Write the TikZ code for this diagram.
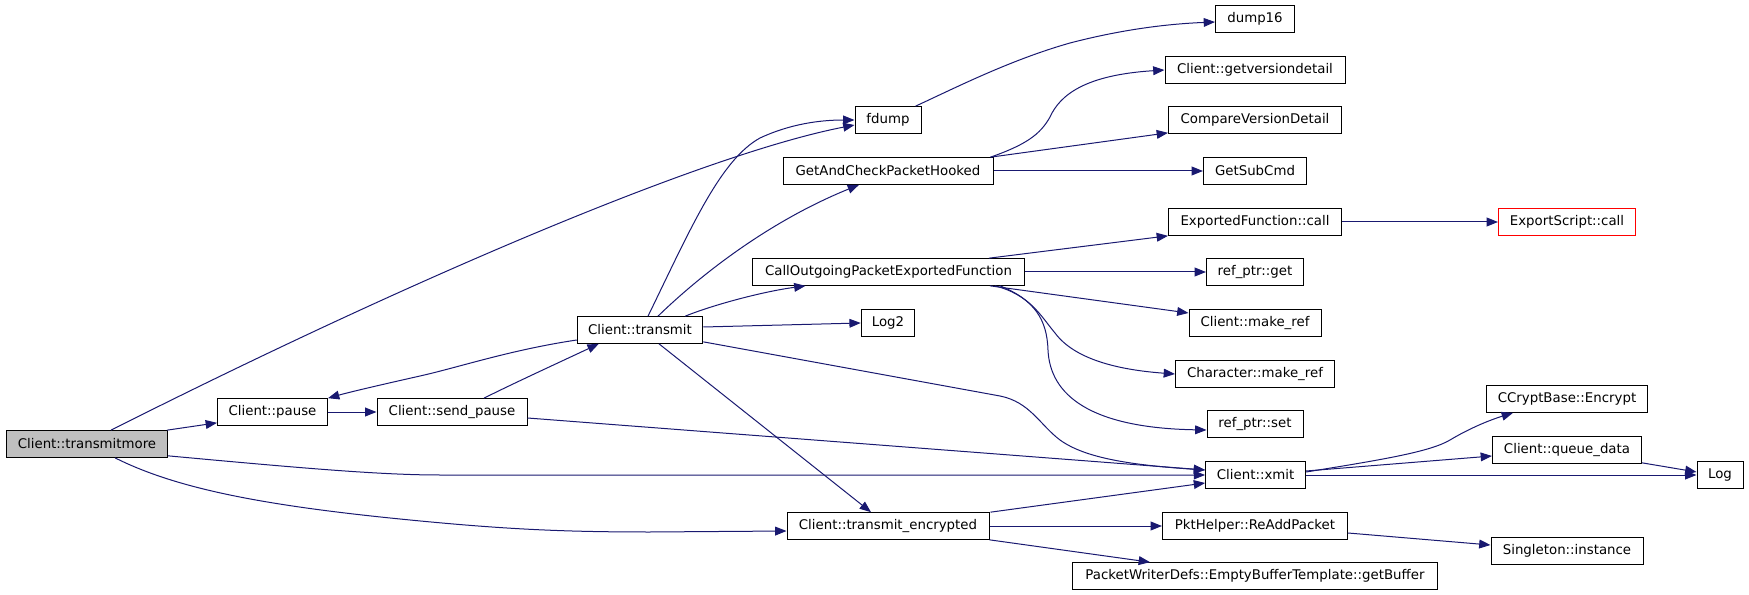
\documentclass[tikz,border=0pt]{standalone}
\usepackage{fontspec}
\setmainfont{DejaVu Sans}
\usetikzlibrary{arrows.meta,calc}
\definecolor{dblue}{HTML}{191970}
\definecolor{tmgray}{HTML}{BFBFBF}
\begin{document}
\begin{tikzpicture}[x=0.75pt,y=-0.75pt,
  nd/.style={draw=black, line width=0.75pt, inner sep=0pt, minimum height=20pt,
    font=\fontsize{10}{12}\selectfont, fill=white},
  w/.style={minimum width=#1*0.75pt},
  e/.style={draw=dblue, line width=0.75pt, -{Triangle[length=8.5pt,width=6.6pt]}, fill=none}]
\useasboundingbox (0,0) rectangle (1749,595);
% nodes
\node[nd,w=161,fill=tmgray] (tm) at (87,444) {Client::transmitmore};
\node[nd,w=110] (pause) at (272.5,412) {Client::pause};
\node[nd,w=150] (sp) at (452,412) {Client::send\_pause};
\node[nd,w=125.5] (tr) at (640,330) {Client::transmit};
\node[nd,w=66] (fdump) at (888,120) {fdump};
\node[nd,w=210] (gacph) at (888,171) {GetAndCheckPacketHooked};
\node[nd,w=272] (co) at (888.5,272) {CallOutgoingPacketExportedFunction};
\node[nd,w=53.5] (log2) at (888,323) {Log2};
\node[nd,w=202] (te) at (888,526) {Client::transmit\_encrypted};
\node[nd,w=79] (d16) at (1255,19) {dump16};
\node[nd,w=180] (gvd) at (1255,70) {Client::getversiondetail};
\node[nd,w=173] (cvd) at (1255,120) {CompareVersionDetail};
\node[nd,w=103] (gsc) at (1255,171) {GetSubCmd};
\node[nd,w=173] (efc) at (1255,222) {ExportedFunction::call};
\node[nd,w=137,draw=red] (esc) at (1567,222) {ExportScript::call};
\node[nd,w=97] (rpget) at (1255,272) {ref\_ptr::get};
\node[nd,w=132] (cmr) at (1255,323) {Client::make\_ref};
\node[nd,w=159] (chmr) at (1255,374) {Character::make\_ref};
\node[nd,w=96] (rpset) at (1255,424) {ref\_ptr::set};
\node[nd,w=100] (xmit) at (1255.6,475) {Client::xmit};
\node[nd,w=161] (ccb) at (1567,399) {CCryptBase::Encrypt};
\node[nd,w=149] (qd) at (1567,450) {Client::queue\_data};
\node[nd,w=46] (log) at (1720,475) {Log};
\node[nd,w=185] (pkt) at (1255,526) {PktHelper::ReAddPacket};
\node[nd,w=152] (single) at (1567,551) {Singleton::instance};
\node[nd,w=365] (pwd) at (1255,576) {PacketWriterDefs::EmptyBufferTemplate::getBuffer};
% edges
\draw[e] ($(tm.north east)+(-1,0)$) -- ($(pause.south west)+(0,-3)$);
\draw[e] ($(tm.north)+(24,0)$) .. controls (411,279) and (705,154) .. ($(fdump.west)+(0,5)$);
\draw[e] ($(tm.south east)+(0,-2)$) .. controls (300,468) and (380,475) .. (440,475) -- (xmit.west);
\draw[e] ($(tm.south)+(28,0)$) .. controls (175,488) and (260,505) .. (400,519) .. controls (500,529) and (560,532) .. (650,532) -- ($(te.west)+(0,5)$);
\draw[e] (pause.east) -- (sp.west);
\draw[e] ($(sp.north)+(32,0)$) .. controls (510,385) and (560,362) .. ($(tr.south west)+(22,0)$);
\draw[e] ($(sp.east)+(0,6)$) -- ($(xmit.west)+(0,-5)$);
\draw[e] ($(tr.west)+(0,10)$) .. controls (510,350) and (460,367) .. (420,376) .. controls (380,385) and (350,392) .. (pause.north east);
\draw[e] ($(tr.north)+(8,0)$) .. controls (690,230) and (720,160) .. (760,138) .. controls (790,124) and (820,120) .. (fdump.west);
\draw[e] ($(tr.north)+(18,0)$) .. controls (690,285) and (760,225) .. ($(gacph.south)+(-29,0)$);
\draw[e] ($(tr.north east)+(-18,0)$) .. controls (710,306) and (760,292) .. ($(co.south)+(-83,0)$);
\draw[e] ($(tr.east)+(0,-3)$) -- (log2.west);
\draw[e] ($(tr.south east)+(0,-2)$) -- (1000,396) .. controls (1030,402) and (1040,425) .. (1060,440) .. controls (1085,458) and (1130,465) .. ($(xmit.west)+(0,-5)$);
\draw[e] ($(tr.south)+(19,0)$) -- ($(te.north)+(-17,0)$);
\draw[e] ($(fdump.north east)+(-6,0)$) .. controls (955,88) and (1010,60) .. (1070,43) .. controls (1120,30) and (1165,24) .. ($(d16.west)+(0,3)$);
\draw[e] ($(gacph.north east)+(-3,0)$) .. controls (1025,145) and (1040,135) .. (1050,117) .. controls (1060,95) and (1085,75) .. (gvd.west);
\draw[e] ($(gacph.north east)+(-3,0)$) -- ($(cvd.south west)+(0,-1)$);
\draw[e] (gacph.east) -- (gsc.west);
\draw[e] ($(co.north east)+(-36,0)$) -- (efc.south west);
\draw[e] (co.east) -- (rpget.west);
\draw[e] ($(co.south east)+(-35,0)$) -- ($(cmr.west)+(0,-10)$);
\draw[e] ($(co.south east)+(-30,0)$) .. controls (1030,295) and (1040,315) .. (1055,333) .. controls (1075,360) and (1120,370) .. (chmr.west);
\draw[e] ($(co.south east)+(-25,0)$) .. controls (1035,300) and (1047,320) .. (1048,350) .. controls (1050,395) and (1090,428) .. ($(rpset.west)+(0,6)$);
\draw[e] (efc.east) -- (esc.west);
\draw[e] ($(xmit.east)+(0,-3)$) .. controls (1380,460) and (1430,452) .. (1450,440) .. controls (1470,428) and (1490,420) .. ($(ccb.south west)+(27,0)$);
\draw[e] ($(xmit.east)+(0,-4)$) -- ($(qd.west)+(0,6)$);
\draw[e] (xmit.east) -- (log.west);
\draw[e] ($(qd.south east)+(0,-1)$) -- ($(log.west)+(0,-3)$);
\draw[e] ($(te.north east)+(1,0)$) -- ($(xmit.west)+(0,8)$);
\draw[e] (te.east) -- (pkt.west);
\draw[e] (te.south east) -- ($(pwd.north west)+(78,0)$);
\draw[e] ($(pkt.east)+(0,7)$) -- ($(single.west)+(0,-6)$);
\end{tikzpicture}
\end{document}
